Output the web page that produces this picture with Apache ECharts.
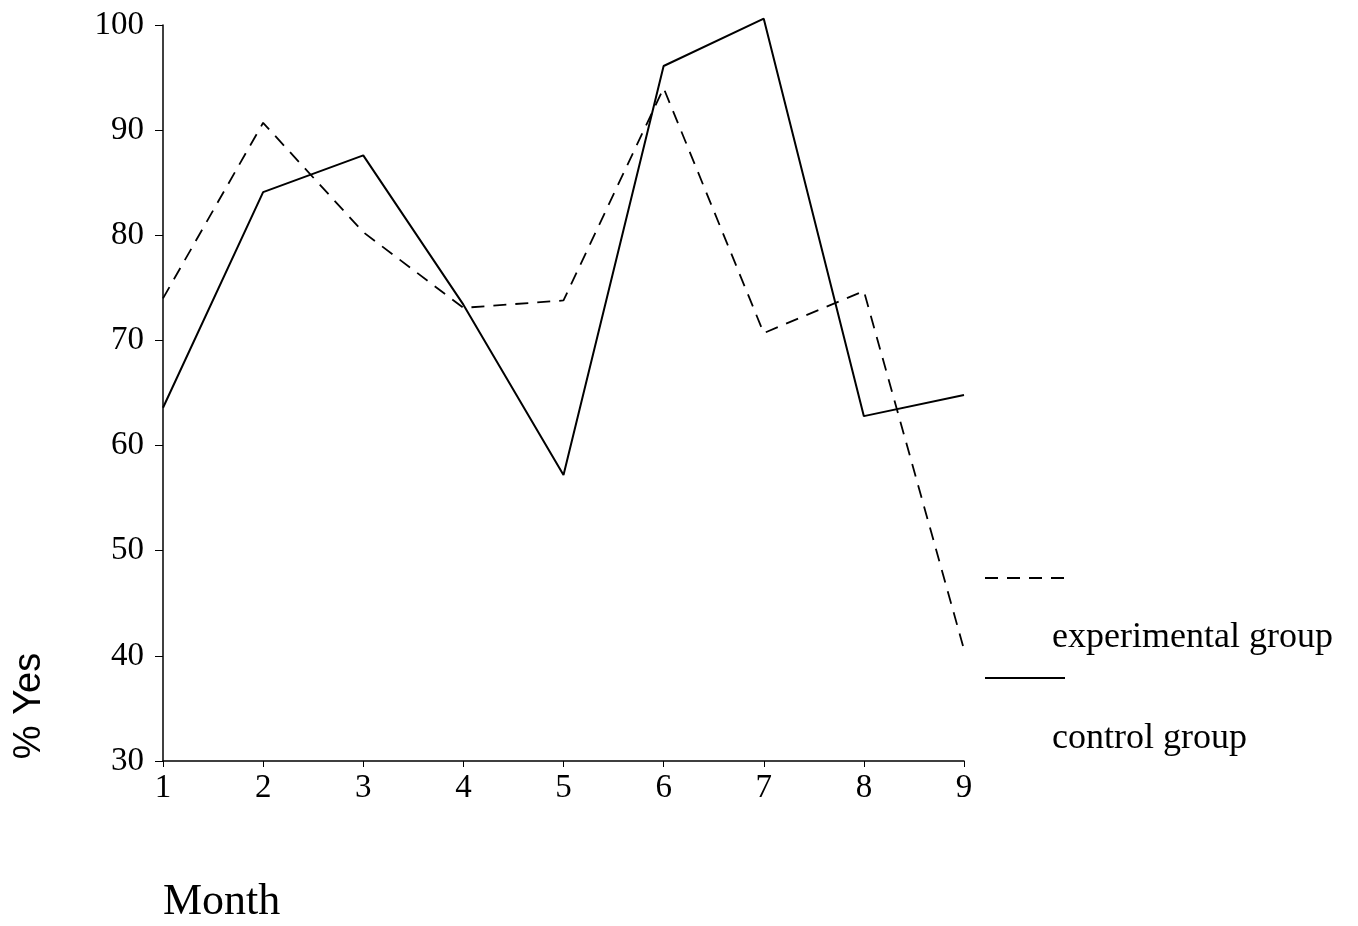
<!DOCTYPE html>
<html>
<head>
<meta charset="utf-8">
<script src="https://cdn.jsdelivr.net/npm/echarts@6/dist/echarts.min.js"></script>
<style>
html,body{margin:0;padding:0;background:#fff;}
#chart{width:1358px;height:926px;}
</style>
</head>
<body>
<div id="chart"></div>
<script>
var months = ['1','2','3','4','5','6','7','8','9'];
var experimental = [74.0, 90.7, 80.3, 73.1, 73.8, 94.0, 70.7, 74.7, 40.6];
var control = [63.6, 84.1, 87.6, 73.4, 57.2, 96.1, 100.6, 62.8, 64.8];
var yTicks = [30, 40, 50, 60, 70, 80, 90, 100];
var seriesNames = ['experimental group', 'control group'];

var serif = '"Liberation Serif", "Times New Roman", serif';
var chart = echarts.init(document.getElementById('chart'), null, {renderer: 'canvas'});
chart.setOption({
  backgroundColor: '#ffffff',
  animation: false,
  grid: {left: 163, right: 394, top: 25, bottom: 165, containLabel: false},
  xAxis: {
    type: 'category',
    data: months,
    boundaryGap: false,
    axisLine: {lineStyle: {color: '#000', width: 1.5}},
    axisTick: {show: true, length: 6, inside: false, lineStyle: {color: '#000'}},
    axisLabel: {color: '#000', fontFamily: serif, fontSize: 33, margin: 11},
    splitLine: {show: false}
  },
  yAxis: {
    type: 'value',
    min: yTicks[0],
    max: yTicks[yTicks.length - 1],
    interval: 10,
    axisLine: {show: true, lineStyle: {color: '#000', width: 1.5}},
    axisTick: {show: true, length: 8, inside: false, lineStyle: {color: '#000'}},
    axisLabel: {color: '#000', fontFamily: serif, fontSize: 33, margin: 19},
    splitLine: {show: false}
  },
  series: [
    {
      name: seriesNames[0],
      type: 'line',
      data: experimental,
      symbol: 'none',
      clip: false,
      lineStyle: {color: '#000', width: 1.8, type: [13, 9]}
    },
    {
      name: seriesNames[1],
      type: 'line',
      data: control,
      symbol: 'none',
      clip: false,
      lineStyle: {color: '#000', width: 2, type: 'solid'}
    }
  ],
  graphic: [
    {type: 'line', shape: {x1: 985, y1: 578, x2: 1067, y2: 578},
     style: {stroke: '#000', lineWidth: 1.8, lineDash: [13, 9]}},
    {type: 'text', left: 1052, top: 620,
     style: {text: seriesNames[0], font: '36px ' + serif, fill: '#000'}},
    {type: 'line', shape: {x1: 985, y1: 678, x2: 1065, y2: 678},
     style: {stroke: '#000', lineWidth: 2}},
    {type: 'text', left: 1052, top: 721,
     style: {text: seriesNames[1], font: '36px ' + serif, fill: '#000'}},
    {type: 'text', left: 163, top: 880,
     style: {text: 'Month', font: '44px ' + serif, fill: '#000'}},
    {type: 'text', x: 30, y: 706, rotation: Math.PI / 2,
     style: {text: '% Yes', font: '38px "Liberation Sans", Arial, sans-serif', fill: '#000',
             align: 'center', verticalAlign: 'middle'}}
  ]
});
</script>
</body>
</html>
